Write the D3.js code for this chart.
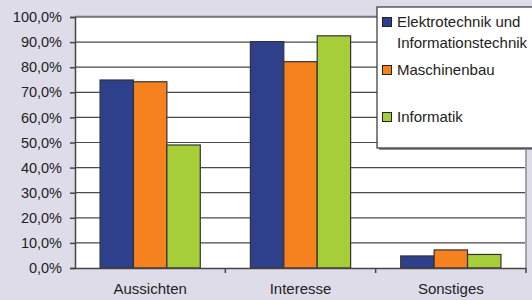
<!DOCTYPE html>
<html>
<head>
<meta charset="utf-8">
<script src="https://cdn.jsdelivr.net/npm/d3@7"></script>
<style>
  body { margin: 0; background: #dfdcea; }
  text { font-family: "Liberation Sans", Arial, sans-serif; fill: #222; }
</style>
</head>
<body>
<div id="chart"></div>
<script>
// Chart data
const categories = ["Aussichten", "Interesse", "Sonstiges"];
const seriesNames = ["Elektrotechnik und Informationstechnik", "Maschinenbau", "Informatik"];
const elektro = [74.9, 90.2, 4.8];
const maschinenbau = [74.2, 82.2, 7.2];
const informatik = [49.0, 92.5, 5.4];
const yTicks = [0, 10, 20, 30, 40, 50, 60, 70, 80, 90, 100];
const colors = ["#2e3f8c", "#f5821f", "#a6ce39"];

const seriesValues = [elektro, maschinenbau, informatik];

const width = 532, height = 300;
const margin = { top: 17, right: 6, bottom: 32, left: 75 };

const svg = d3.select("#chart")
    .append("svg")
    .attr("width", width)
    .attr("height", height);

// Scales
const x = d3.scaleBand()
    .domain(categories)
    .range([margin.left, width - margin.right]);

const x1 = d3.scaleBand()
    .domain(d3.range(seriesNames.length))
    .range([0, x.bandwidth()])
    .paddingOuter(0.75);

const y = d3.scaleLinear()
    .domain([0, 100])
    .range([height - margin.bottom, margin.top]);

// Plot area
svg.append("rect")
    .attr("x", margin.left)
    .attr("y", margin.top)
    .attr("width", width - margin.right - margin.left)
    .attr("height", y(0) - margin.top)
    .attr("fill", "#fff");

svg.append("line")
    .attr("x1", margin.left).attr("x2", width - margin.right)
    .attr("y1", margin.top - 0.5).attr("y2", margin.top - 0.5)
    .attr("stroke", "#a8a6b0").attr("stroke-width", 2);

// Gridlines
svg.selectAll(".grid")
    .data(yTicks.filter(d => d > 0))
    .enter().append("line")
    .attr("class", "grid")
    .attr("x1", margin.left)
    .attr("x2", width - margin.right)
    .attr("y1", d => y(d))
    .attr("y2", d => y(d))
    .attr("stroke", "#4a4a4a")
    .attr("stroke-width", 1.2);

// Right border of plot
svg.append("line")
    .attr("x1", width - margin.right).attr("x2", width - margin.right)
    .attr("y1", margin.top).attr("y2", y(0))
    .attr("stroke", "#a4a2ac").attr("stroke-width", 2);

// Bars
const groups = svg.selectAll(".group")
    .data(categories)
    .enter().append("g")
    .attr("class", "group")
    .attr("transform", d => `translate(${x(d)},0)`);

groups.selectAll("rect")
    .data((d, i) => seriesValues.map((s, j) => ({ s: j, v: s[i] })))
    .enter().append("rect")
    .attr("x", d => x1(d.s))
    .attr("y", d => y(d.v))
    .attr("width", x1.bandwidth())
    .attr("height", d => y(0) - y(d.v))
    .attr("fill", d => colors[d.s])
    .attr("stroke", "#333")
    .attr("stroke-width", 1.2);

// Y axis
const yAxis = d3.axisLeft(y)
    .tickValues(yTicks)
    .tickSize(5)
    .tickPadding(8)
    .tickFormat(d => d.toFixed(1).replace(".", ",") + "%");

const yg = svg.append("g")
    .attr("transform", `translate(${margin.left},0)`)
    .call(yAxis);
yg.selectAll("path, line").attr("stroke", "#444").attr("stroke-width", 1.5);
yg.selectAll("text").style("font-size", "14.5px").attr("fill", "#222");

// X axis
const xAxis = d3.axisBottom(x)
    .tickSize(0)
    .tickPadding(15);

const xg = svg.append("g")
    .attr("transform", `translate(0,${y(0)})`)
    .call(xAxis);
xg.select("path").attr("stroke", "#444").attr("stroke-width", 1.5);
xg.selectAll("text").style("font-size", "15px").attr("fill", "#222");

// Separator ticks between categories
xg.selectAll(".sep")
    .data(categories.slice(1).map(c => x(c)).concat([width - margin.right]))
    .enter().append("line")
    .attr("x1", d => d).attr("x2", d => d)
    .attr("y1", 0).attr("y2", 5)
    .attr("stroke", "#444").attr("stroke-width", 1.5);

// Legend
const legend = svg.append("g").attr("transform", "translate(377,7)");
legend.append("rect")
    .attr("x", 2).attr("y", 2)
    .attr("width", 170).attr("height", 141)
    .attr("fill", "#8e8c96");
legend.append("rect")
    .attr("x", 0).attr("y", 0)
    .attr("width", 170).attr("height", 141)
    .attr("fill", "#fff")
    .attr("stroke", "#333")
    .attr("stroke-width", 1.2);

const legendLines = [["Elektrotechnik und", "Informationstechnik"], ["Maschinenbau"], ["Informatik"]];
const legendY = [15, 63, 110];

legendLines.forEach((lines, i) => {
    legend.append("rect")
        .attr("x", 5.5).attr("y", legendY[i] - 4.5)
        .attr("width", 9).attr("height", 9)
        .attr("fill", colors[i])
        .attr("stroke", "#222")
        .attr("stroke-width", 1);
    lines.forEach((t, k) => {
        legend.append("text")
            .attr("x", 20)
            .attr("y", legendY[i] + 5 + k * 21)
            .style("font-size", "15px")
            .text(t);
    });
});
</script>
</body>
</html>
